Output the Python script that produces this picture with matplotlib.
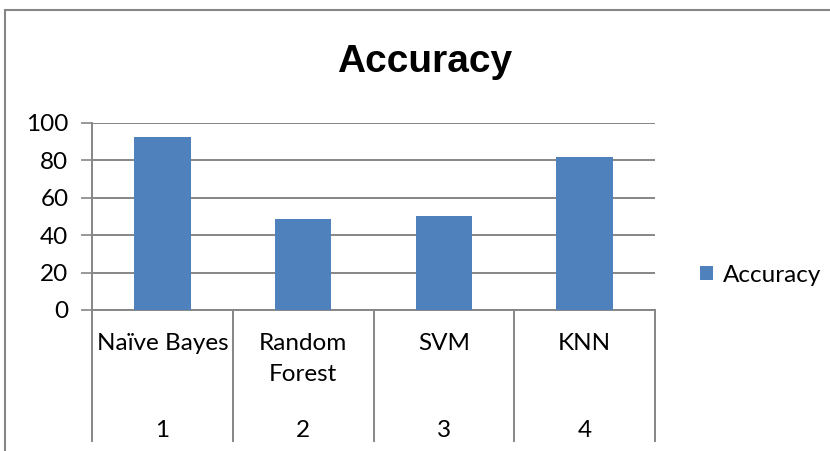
import matplotlib.pyplot as plt
import matplotlib.transforms as mtransforms
from matplotlib.patches import Rectangle

# Data
models = ["Naïve Bayes", "Random\nForest", "SVM", "KNN"]
numbers = ["1", "2", "3", "4"]
accuracy = [92.5, 48.8, 50.2, 81.8]

grey = "#868686"
blue = "#4F81BD"
plt.rcParams["font.family"] = ["Lato", "DejaVu Sans"]

fig = plt.figure(figsize=(8.3, 4.51), dpi=100)
ax = fig.add_axes([92 / 830, 1 - 310 / 451, (655 - 92) / 830, (310 - 122.7) / 451])

x = list(range(len(models)))
ax.bar(x, accuracy, width=0.4, color=blue, label="Accuracy", zorder=3)

ax.set_ylim(0, 100)
ax.set_xlim(-0.5, len(models) - 0.5)
ax.set_yticks(range(0, 101, 20))
ax.tick_params(axis="y", labelsize=17.5, length=8, width=1.2, color=grey, pad=9)
ax.set_xticks([])
ax.yaxis.grid(True, color=grey, linewidth=1.4, zorder=0)

for side in ["top", "right"]:
    ax.spines[side].set_visible(False)
for side in ["left", "bottom"]:
    ax.spines[side].set_color(grey)
    ax.spines[side].set_linewidth(1.4)

# multi-level category axis
trans = mtransforms.blended_transform_factory(ax.transData, ax.transAxes)
for b in [i - 0.5 for i in range(len(models) + 1)]:
    ax.plot([b, b], [0, -0.70], transform=trans, color=grey, lw=1.4, clip_on=False)
for i, (name, num) in enumerate(zip(models, numbers)):
    ax.text(i, -0.125, name, transform=trans, ha="center", va="top", fontsize=17.5,
            linespacing=1.55)
    ax.text(i, -0.641, num, transform=trans, ha="center", va="center", fontsize=17.5)

fig.text(425 / 830, 1 - 62 / 451, "Accuracy", ha="center", va="center",
         fontsize=28, fontweight="bold", family=["Liberation Sans", "DejaVu Sans"])

ax.legend(loc="center left", bbox_to_anchor=(678 / 830, 1 - 275 / 451),
          bbox_transform=fig.transFigure, frameon=False, fontsize=17.5,
          handlelength=0.55, handleheight=0.55, handletextpad=0.4)

# chart border
fig.patches.append(Rectangle((5 / 830, -0.1), 2, 1.1 - 10 / 451, transform=fig.transFigure,
                             fill=False, edgecolor=grey, lw=1.5))

fig.savefig("out.png", dpi=100)
